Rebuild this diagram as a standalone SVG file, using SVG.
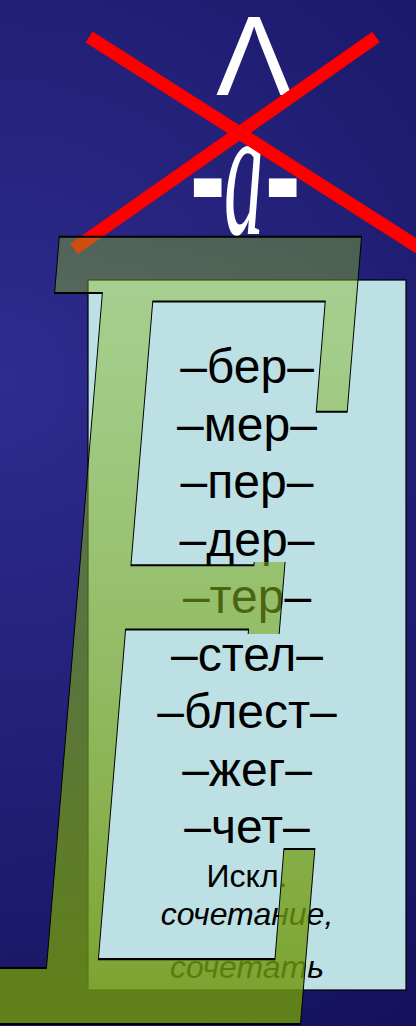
<svg xmlns="http://www.w3.org/2000/svg" width="416" height="1026" viewBox="0 0 416 1026">
  <defs>
    <radialGradient id="bg" cx="0" cy="380" r="900" gradientUnits="userSpaceOnUse">
      <stop offset="0" stop-color="#2e2c8e"/>
      <stop offset="0.6" stop-color="#1c1a6c"/>
      <stop offset="1" stop-color="#100b55"/>
    </radialGradient>
    <linearGradient id="eGrad" x1="0" y1="0" x2="0" y2="1">
      <stop offset="0" stop-color="#93c727" stop-opacity="0.3"/>
      <stop offset="0.5" stop-color="#7aa61a" stop-opacity="0.62"/>
      <stop offset="1" stop-color="#668a00" stop-opacity="1"/>
    </linearGradient>
    <clipPath id="armClip">
      <path clip-rule="evenodd" d="M-50 -10H470V1040H-50Z M222 452H330V562H222Z M222 634H330V742H222Z"/>
    </clipPath>
    <style>
      .word { font-family: "Liberation Sans", Arial, sans-serif; font-size: 48px; fill: #000; text-anchor: middle; }
      .small { font-family: "Liberation Sans", Arial, sans-serif; font-size: 32px; fill: #000; text-anchor: middle; }
      .it { font-style: italic; }
      .cross { stroke: #ff0000; stroke-width: 13; fill: none; }
      .white { fill: #ffffff; }
      .dash { font-style: normal; font-size: 106px; }
    </style>
  </defs>

  <rect x="0" y="0" width="416" height="1026" fill="url(#bg)"/>

  <g id="card">
    <rect x="88" y="280" width="318" height="710" fill="#bce0e4" stroke="#000" stroke-width="1.2"/>
  </g>

  <g id="words">
    <text class="word" x="247" y="383">–бер–</text>
    <text class="word" x="247" y="440.5">–мер–</text>
    <text class="word" x="247" y="498">–пер–</text>
    <text class="word" x="247" y="555.5">–дер–</text>
    <text class="word" x="247" y="613">–тер–</text>
    <text class="word" x="247" y="670.5">–стел–</text>
    <text class="word" x="247" y="728">–блест–</text>
    <text class="word" x="247" y="785.5">–жег–</text>
    <text class="word" x="247" y="843">–чет–</text>
    <text class="small" x="247" y="887">Искл.</text>
    <text class="small it" x="247" y="925">сочетание,</text>
    <text class="small it" x="247" y="978">сочетать</text>
  </g>

  <g id="caret">
    <text class="white" x="254" y="95" font-family="Liberation Sans, Arial, sans-serif" font-size="114" text-anchor="middle">Λ</text>
  </g>

  <g id="suffix">
    <text class="white" transform="scale(1,2.34)" y="100" font-family="Liberation Serif, Times New Roman, serif" font-style="italic" font-size="80"><tspan class="dash" x="190" dy="5">-</tspan><tspan x="224" dy="-5">а</tspan><tspan class="dash" x="265" dy="5">-</tspan></text>
  </g>

  <g id="cross">
    <line class="cross" x1="89" y1="37" x2="440" y2="261"/>
    <line class="cross" x1="376" y1="37" x2="74" y2="249"/>
  </g>

  <g id="bigE" clip-path="url(#armClip)">
    <text transform="translate(2,1024) skewX(0.57) scale(0.515,1.08)" x="0" y="0" font-family="DejaVu Serif, serif" font-style="italic" font-size="1000" fill="url(#eGrad)" stroke="#000" stroke-width="1.6" vector-effect="non-scaling-stroke">Е</text>
  </g>
</svg>
